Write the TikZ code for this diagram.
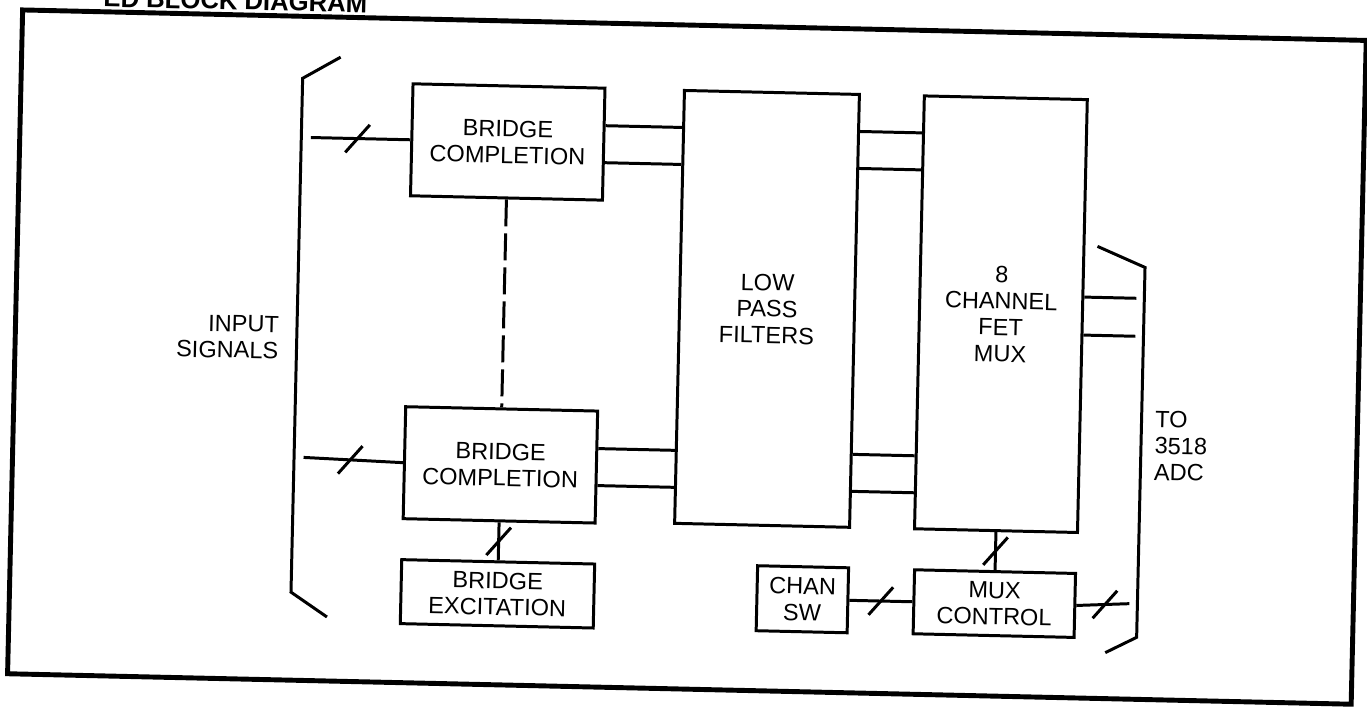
\documentclass[tikz,border=0pt]{standalone}
\usepackage{fontspec}
\setmainfont{Liberation Sans}
\usetikzlibrary{positioning}

\newcommand{\busmark}[1]{\draw[wire] (#1) ++(-0.12,-0.14) -- ++(0.24,0.28);}

\begin{document}
\begin{tikzpicture}[
  wire/.style={black,line width=0.85pt},
  blk/.style={draw=black,line width=0.85pt,rectangle,align=center,inner sep=0pt,
    font=\fontsize{6.7}{7.5}\selectfont},
  lbl/.style={inner sep=0pt,font=\fontsize{6.7}{7.5}\selectfont}
]
\useasboundingbox (0,0) rectangle (13.67,7.07);
\begin{scope}[rotate around={-1.3:(6.83,3.54)},transform shape]
% frame and title
\draw[line width=1.4pt] (0.15,0.18) rectangle (13.59,6.82);
\node[anchor=base west,inner sep=0pt,font=\fontsize{7.3}{8}\selectfont\bfseries] (title) at (0.95,6.87) {ED BLOCK DIAGRAM};

% blocks
\node[blk,minimum width=1.75cm,minimum height=4.33cm] (lpf) at (7.66,4.00) {LOW\\PASS\\FILTERS};
\node[blk,minimum width=1.63cm,minimum height=4.33cm,right=0.62cm of lpf] (mux) {8\\CHANNEL\\FET\\MUX};
\node[blk,minimum width=1.92cm,minimum height=1.12cm] (bcA) at (5.03,5.61) {BRIDGE\\COMPLETION};
\node[blk,minimum width=1.92cm,minimum height=1.12cm,below=2.08cm of bcA] (bcB) {BRIDGE\\COMPLETION};
\node[blk,minimum width=1.93cm,minimum height=0.64cm,below=0.38cm of bcB] (bex) {BRIDGE\\EXCITATION};
\node[blk,minimum width=1.61cm,minimum height=0.64cm,below=0.38cm of mux] (muxctl) {MUX\\CONTROL};
\node[blk,minimum width=0.91cm,minimum height=0.65cm,left=0.63cm of muxctl] (chsw) {CHAN\\SW};

% labels
\node[lbl,align=right,anchor=east] (insig) at (2.79,3.60) {INPUT\\SIGNALS};
\node[lbl,align=left,anchor=west] (adc) at (11.56,2.72) {TO\\3518\\ADC};

% brackets
\draw[wire] (3.34,6.42) -- (2.965,6.20) -- (2.965,1.06) -- (3.33,0.82);
\draw[wire] (10.95,4.70) -- (11.43,4.50) -- (11.43,0.80) -- (11.12,0.64);

% inputs
\coordinate (inA) at (3.06,5.61);
\coordinate (inB) at (3.06,2.41);
\draw[wire] (inA) -- coordinate[pos=0.47] (mkA) (bcA.west);
\draw[wire] (inB) -- coordinate[pos=0.47] (mkB) (bcB.west);
\busmark{mkA}
\busmark{mkB}
\draw[wire,dash pattern=on 0.27cm off 0.07cm] (bcA.south) -- (bcB.north);
\draw[wire] (bcB.south) -- coordinate (mkC) (bex.north);
\busmark{mkC}

% filter lines
\foreach \n/\dy in {1/1.85mm,2/-1.85mm} {
  \coordinate (a\n) at ([yshift=\dy]bcA.east);
  \coordinate (b\n) at ([yshift=\dy]bcB.east);
  \draw[wire] (a\n) -- (a\n -| lpf.west);
  \draw[wire] (b\n) -- (b\n -| lpf.west);
  \draw[wire] (a\n -| lpf.east) -- (a\n -| mux.west);
  \draw[wire] (b\n -| lpf.east) -- (b\n -| mux.west);
}

% mux outputs
\coordinate (outA) at (11.35,4.19);
\coordinate (outB) at (11.35,3.81);
\coordinate (outC) at (11.35,1.135);
\draw[wire] (mux.east |- outA) -- (outA);
\draw[wire] (mux.east |- outB) -- (outB);

% control
\draw[wire] (mux.south) -- coordinate (mkD) (muxctl.north);
\draw[wire] (chsw.east) -- coordinate (mkE) (muxctl.west);
\draw[wire] (muxctl.east) -- coordinate[pos=0.54] (mkF) (outC);
\busmark{mkD}
\busmark{mkE}
\busmark{mkF}
\end{scope}
\end{tikzpicture}
\end{document}
